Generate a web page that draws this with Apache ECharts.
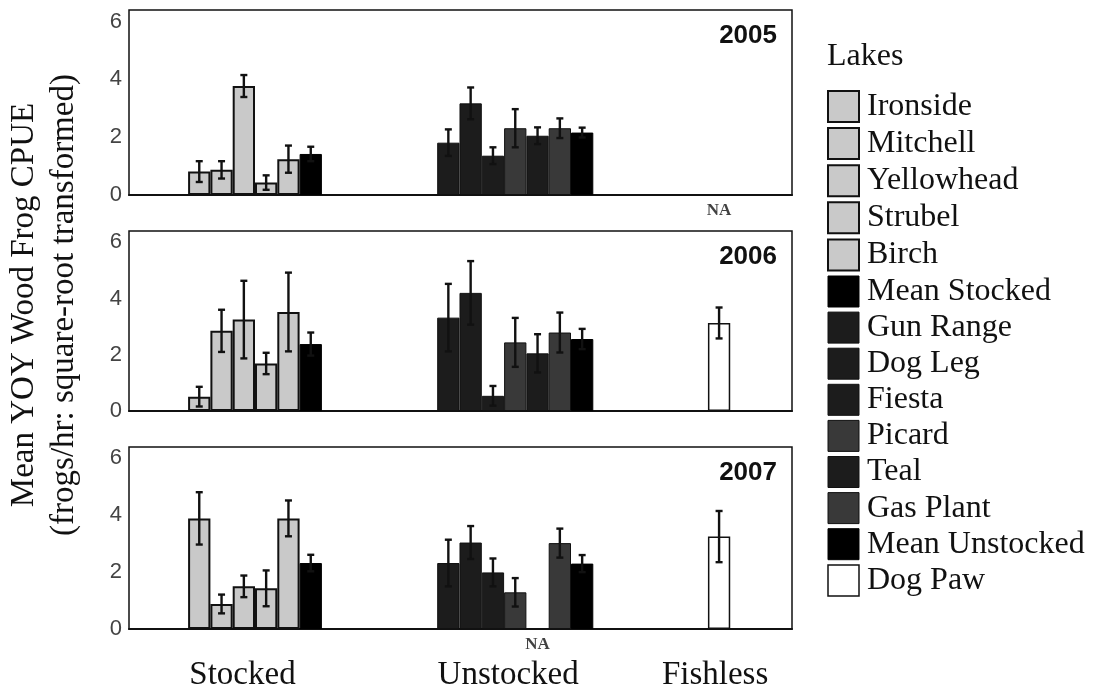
<!DOCTYPE html>
<html><head><meta charset="utf-8">
<script src="https://cdn.jsdelivr.net/npm/echarts@6/dist/echarts.min.js"></script>
<style>html,body{margin:0;padding:0;background:#fff}#c{width:1104px;height:692px}</style>
</head><body><div id="c"></div>
<script>
// ---------------- DATA ----------------
const years = ['2005', '2006', '2007'];
const groupNames = ['Stocked', 'Unstocked', 'Fishless'];
const stockedLakes = ['Ironside', 'Mitchell', 'Yellowhead', 'Strubel', 'Birch', 'Mean Stocked'];
const unstockedLakes = ['Gun Range', 'Dog Leg', 'Fiesta', 'Picard', 'Teal', 'Gas Plant', 'Mean Unstocked'];
const fishlessLakes = ['Dog Paw'];
const yTicks = [0, 2, 4, 6];

// mean values (null = NA) and standard errors
const stocked2005 = [0.81, 0.87, 3.77, 0.43, 1.24, 1.42];
const stockedErr2005 = [0.36, 0.30, 0.38, 0.25, 0.47, 0.25];
const unstocked2005 = [1.81, 3.17, 1.36, 2.31, 2.05, 2.31, 2.16];
const unstockedErr2005 = [0.46, 0.55, 0.29, 0.66, 0.29, 0.34, 0.17];
const fishless2005 = [null];
const fishlessErr2005 = [null];

const stocked2006 = [0.51, 2.85, 3.25, 1.69, 3.52, 2.38];
const stockedErr2006 = [0.35, 0.75, 1.38, 0.38, 1.40, 0.41];
const unstocked2006 = [3.32, 4.20, 0.54, 2.44, 2.05, 2.79, 2.56];
const unstockedErr2006 = [1.20, 1.13, 0.35, 0.87, 0.68, 0.71, 0.36];
const fishless2006 = [3.13];
const fishlessErr2006 = [0.55];

const stocked2007 = [3.89, 0.88, 1.50, 1.43, 3.89, 2.32];
const stockedErr2007 = [0.92, 0.33, 0.38, 0.63, 0.63, 0.29];
const unstocked2007 = [2.32, 3.04, 1.99, 1.29, null, 3.02, 2.30];
const unstockedErr2007 = [0.82, 0.58, 0.49, 0.50, null, 0.51, 0.30];
const fishless2007 = [3.25];
const fishlessErr2007 = [0.90];

// ---------------- LAYOUT / STYLE ----------------
const panelValues = [
  [stocked2005, unstocked2005, fishless2005],
  [stocked2006, unstocked2006, fishless2006],
  [stocked2007, unstocked2007, fishless2007]
];
const panelErrors = [
  [stockedErr2005, unstockedErr2005, fishlessErr2005],
  [stockedErr2006, unstockedErr2006, fishlessErr2006],
  [stockedErr2007, unstockedErr2007, fishlessErr2007]
];
const groupLakes = [stockedLakes, unstockedLakes, fishlessLakes];
const groupStart = [0, 11.17, 23.31];       // slot where each group starts (in bar widths)
const groupLabelPos = [1.94, 13.85, 23.13];  // where group labels sit
const xMin = -3.15, xMax = 26.58;
const gridLeft = 129, gridWidth = 663;
const gridTops = [10, 231, 447];
const gridHeights = [185, 180, 183];
const barPx = gridWidth / (xMax - xMin);

const lightFill = '#c9c9c9', darkFill = '#1c1c1c', midDark = '#393939', black = '#000000';
const lakeStyle = {
  'Ironside': {color: lightFill, borderColor: '#111', borderWidth: 2},
  'Mitchell': {color: lightFill, borderColor: '#111', borderWidth: 2},
  'Yellowhead': {color: lightFill, borderColor: '#111', borderWidth: 2},
  'Strubel': {color: lightFill, borderColor: '#111', borderWidth: 2},
  'Birch': {color: lightFill, borderColor: '#111', borderWidth: 2},
  'Mean Stocked': {color: black, borderColor: black, borderWidth: 1},
  'Gun Range': {color: darkFill, borderColor: '#111', borderWidth: 1},
  'Dog Leg': {color: darkFill, borderColor: '#111', borderWidth: 1},
  'Fiesta': {color: darkFill, borderColor: '#111', borderWidth: 1},
  'Picard': {color: midDark, borderColor: '#111', borderWidth: 1},
  'Teal': {color: darkFill, borderColor: '#111', borderWidth: 1},
  'Gas Plant': {color: midDark, borderColor: '#111', borderWidth: 1},
  'Mean Unstocked': {color: black, borderColor: black, borderWidth: 1},
  'Dog Paw': {color: '#ffffff', borderColor: '#111', borderWidth: 1.5}
};
const allLakes = stockedLakes.concat(unstockedLakes, fishlessLakes);

const serif = '"Liberation Serif", "Times New Roman", serif';
const sans = '"Liberation Sans", Arial, sans-serif';

const grids = [], xAxes = [], yAxes = [], series = [], graphics = [];

for (let p = 0; p < 3; p++) {
  grids.push({left: gridLeft, top: gridTops[p], width: gridWidth, height: gridHeights[p],
    show: true, borderColor: '#111', borderWidth: 1.5, backgroundColor: 'transparent'});
  const isLast = p === 2;
  xAxes.push({
    type: 'value', gridIndex: p, min: xMin, max: xMax,
    splitLine: {show: false}, axisTick: {show: false},
    axisLine: {show: true, onZero: false, lineStyle: {color: '#111', width: 2}},
    axisLabel: isLast ? {
      show: true, customValues: groupLabelPos, margin: 30,
      fontFamily: serif, fontSize: 33, color: '#111',
      formatter: function (v) {
        let best = 0;
        groupLabelPos.forEach(function (g, i) { if (Math.abs(g - v) < Math.abs(groupLabelPos[best] - v)) best = i; });
        return groupNames[best];
      }
    } : {show: false}
  });
  yAxes.push({
    type: 'value', gridIndex: p, min: 0, max: 6.4, interval: 2,
    splitLine: {show: false}, axisTick: {show: false}, axisLine: {show: false},
    axisLabel: {margin: 7, fontFamily: sans, fontSize: 22, color: '#444',
      customValues: yTicks}
  });

  const bars = [], errs = [], nas = [];
  for (let g = 0; g < 3; g++) {
    groupLakes[g].forEach(function (lake, i) {
      const x = groupStart[g] + i;
      const v = panelValues[p][g][i];
      const e = panelErrors[p][g][i];
      if (v === null) { nas.push([x, 0]); return; }
      bars.push({value: [x, v], name: lake, itemStyle: lakeStyle[lake]});
      errs.push([x, v, e]);
    });
  }
  series.push({
    type: 'bar', name: 'bars' + years[p], xAxisIndex: p, yAxisIndex: p,
    barWidth: barPx, data: bars, silent: true, animation: false
  });
  series.push({
    type: 'custom', name: 'err' + years[p], xAxisIndex: p, yAxisIndex: p,
    data: errs, silent: true, animation: false, z: 5,
    renderItem: function (params, api) {
      const x = api.value(0), v = api.value(1), e = api.value(2);
      const t = api.coord([x, v + e]), b = api.coord([x, v - e]);
      const cw = 3.5;
      const st = {stroke: '#111', lineWidth: 2.4};
      return {type: 'group', children: [
        {type: 'line', shape: {x1: t[0], y1: t[1], x2: b[0], y2: b[1]}, style: st},
        {type: 'line', shape: {x1: t[0] - cw, y1: t[1], x2: t[0] + cw, y2: t[1]}, style: st},
        {type: 'line', shape: {x1: b[0] - cw, y1: b[1], x2: b[0] + cw, y2: b[1]}, style: st}
      ]};
    }
  });
  series.push({
    type: 'scatter', name: 'na' + years[p], xAxisIndex: p, yAxisIndex: p,
    data: nas, symbolSize: 0, silent: true, animation: false,
    label: {show: true, position: 'bottom', distance: 7, formatter: 'NA',
      fontFamily: serif, fontWeight: 'bold', fontSize: 17, color: '#111'}
  });

  graphics.push({
    type: 'text', x: gridLeft + gridWidth - 15, y: gridTops[p] + 26,
    style: {text: years[p], textAlign: 'right', textVerticalAlign: 'middle',
      font: 'bold 26px ' + sans, fill: '#111'}
  });
}

// legend-only series
allLakes.forEach(function (lake) {
  series.push({type: 'custom', name: lake, data: [], xAxisIndex: 0, yAxisIndex: 0,
    itemStyle: lakeStyle[lake], renderItem: function () { return null; }});
});

graphics.push({
  type: 'text', x: 827, y: 57,
  style: {text: 'Lakes', textAlign: 'left', textVerticalAlign: 'middle',
    font: '32px ' + serif, fill: '#111'}
});
graphics.push({
  type: 'text', x: 44, y: 305, rotation: Math.PI / 2,
  style: {text: 'Mean YOY Wood Frog CPUE\n(frogs/hr: square-root transformed)',
    textAlign: 'center', textVerticalAlign: 'middle', lineHeight: 40,
    font: '33px ' + serif, fill: '#111'}
});

const chart = echarts.init(document.getElementById('c'));
chart.setOption({
  animation: false,
  backgroundColor: '#ffffff',
  grid: grids, xAxis: xAxes, yAxis: yAxes, series: series, graphic: graphics,
  legend: {
    orient: 'vertical', left: 827, top: 90, padding: 0,
    itemWidth: 31, itemHeight: 31, itemGap: 4.1,
    icon: 'rect', selectedMode: false,
    data: allLakes.map(function (lake) { return {name: lake, itemStyle: lakeStyle[lake]}; }),
    textStyle: {fontFamily: serif, fontSize: 32, lineHeight: 29, height: 29, color: '#111', padding: [0, 0, 0, 3]}
  }
});
</script>
</body></html>
